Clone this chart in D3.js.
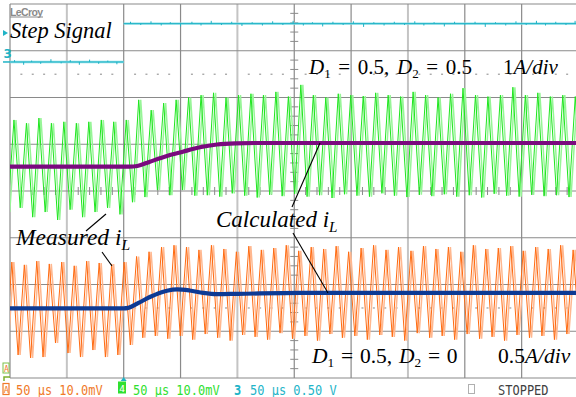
<!DOCTYPE html>
<html>
<head>
<meta charset="utf-8">
<script src="https://cdn.jsdelivr.net/npm/d3@7/dist/d3.min.js"></script>
<style>
  html, body { margin: 0; padding: 0; background: #fff; }
  svg { display: block; }
</style>
</head>
<body>
<svg id="scope" width="576" height="397"></svg>
<script>
// ---- Acquisition settings -------------------------------------------------
const timeSpan = [0, 500];            // µs, 10 div x 50 µs
const rippleStart = { green: -1.985, orange: -3.85 };  // first trough time, µs
const ripplePeriod = 10.97;           // switching period, µs

// Measured inductor current, D1 = 0.5, D2 = 0.5 (A, 1 A/div)
const greenTroughs = [-0.45, -0.36, -0.56, -0.45, -0.62, -0.40, -0.56, -0.45, -0.36, -0.50,
  -0.24, -0.13, 0.02, -0.09, 0.02, -0.10,
  -0.09, -0.12, -0.05, -0.10, -0.14, -0.08, -0.11, -0.06, -0.12, -0.09, -0.15, -0.07, -0.10,
  -0.12, -0.05, -0.10, -0.13, -0.08, -0.11, -0.07, -0.12, -0.09, -0.14, -0.06, -0.10, -0.12,
  -0.08, -0.11, -0.09, -0.13, -0.07];
const greenPeaks = [1.52, 1.45, 1.56, 1.45, 1.48, 1.45, 1.48, 1.52, 1.48, 1.52,
  1.95, 1.73, 1.88, 1.95, 2.00,
  2.05, 2.10, 2.00, 2.05, 2.08, 2.05, 2.12, 2.02, 2.27, 2.05, 2.00, 2.08, 2.05, 2.03, 2.10,
  2.05, 2.02, 2.12, 2.05, 2.00, 2.08, 2.20, 2.05, 2.02, 2.05, 2.22, 2.05, 2.10, 2.02, 2.05, 2.02];

// Measured inductor current, D1 = 0.5, D2 = 0 (A, 0.5 A/div)
const orangeTroughs = [0.00, -0.004, -0.036, -0.026, 0.124, 0.017, -0.026, 0.049, -0.026, -0.004,
  0.103, 0.18, 0.20, 0.17,
  0.20, 0.16, 0.22, 0.18, 0.15, 0.21, 0.19, 0.16, 0.23, 0.17, 0.20, 0.15, 0.22, 0.18, 0.20,
  0.16, 0.21, 0.19, 0.15, 0.23, 0.18, 0.20, 0.16, 0.22, 0.17, 0.19, 0.15, 0.21, 0.18, 0.20,
  0.16, 0.22, 0.19];
const orangePeaks = [0.99, 0.96, 1.00, 0.97, 0.99, 0.95, 1.00, 0.98, 0.97, 0.99,
  1.05, 1.10, 1.15, 1.17,
  1.15, 1.12, 1.17, 1.13, 1.10, 1.16, 1.12, 1.14, 1.17, 1.11, 1.15, 1.13, 1.16, 1.10, 1.14,
  1.17, 1.12, 1.15, 1.11, 1.16, 1.13, 1.15, 1.10, 1.17, 1.13, 1.14, 1.16, 1.11, 1.15, 1.13,
  1.17, 1.12];

// Calculated average inductor current (A)
const calcGreenTime  = [0, 105, 112, 123, 138, 152, 167, 182, 198, 215, 500];
const calcGreenValue = [0.52, 0.52, 0.535, 0.627, 0.749, 0.841, 0.935, 0.995, 1.02, 1.027, 1.027];
const calcOrangeTime  = [0, 100, 104, 113, 123, 138, 147, 158, 170, 182, 200, 255, 500];
const calcOrangeValue = [0.495, 0.495, 0.50, 0.553, 0.616, 0.683, 0.698, 0.686, 0.66, 0.647, 0.65, 0.66, 0.66];

// Step command (V, 0.5 V/div): low and high plateaus
const stepTime  = [0, 100, 100, 500];
const stepValue = [0, 0, 0.41, 0.41];
// small glitches riding on the step trace: [time µs, deviation V]
const stepGlitches = [[4, 0.02], [12, -0.03], [19, 0.015], [27, -0.02], [36, 0.03], [45, -0.015],
  [53, 0.02], [61, -0.03], [70, 0.025], [78, -0.02], [86, 0.015], [94, -0.025],
  [106, 0.02], [115, -0.015], [124, 0.025], [133, -0.02], [141, 0.015], [150, -0.03],
  [160, 0.02], [168, -0.02], [177, 0.03], [186, -0.015], [195, 0.02], [204, -0.025],
  [213, 0.015], [222, -0.02], [231, 0.025], [240, -0.015], [249, 0.03], [258, -0.02],
  [266, 0.015], [275, -0.03], [284, 0.02], [293, -0.015], [302, 0.025], [311, -0.035],
  [320, 0.015], [329, -0.02], [338, 0.02], [347, -0.015], [356, 0.025], [364, -0.02],
  [373, 0.015], [382, -0.03], [391, 0.02], [400, -0.015], [409, 0.02], [418, -0.035],
  [427, 0.015], [436, -0.02], [445, 0.025], [454, -0.015], [463, 0.03], [471, -0.02],
  [480, 0.02], [489, -0.015], [497, 0.03]];

// Status line entries
const statusItems = [
  { tag: "A", text: "50 \u03bcs 10.0mV", color: "#f07a2a" },
  { tag: "4", text: "50 \u03bcs 10.0mV", color: "#2fe02f" },
  { tag: "3", text: "50 \u03bcs 0.50 V", color: "#22b4c8" }
];

// ---- Scales -----------------------------------------------------------------
const W = 576, H = 397;
const gridLeft = 10, gridTop = 4, gridBottom = 378;
const x = d3.scaleLinear().domain(timeSpan).range([gridLeft, 578.5]);
const yDiv = d3.scaleLinear().domain([-4, 4]).range([gridBottom, gridTop]);
const channel = (offsetDiv, perDiv) => v => yDiv(offsetDiv + v / perDiv);
const yGreen = channel(0, 1);
const yOrange = channel(-3.5, 0.5);
const yStep = channel(2.76, 0.5);

const svg = d3.select("#scope");
svg.append("rect").attr("width", W).attr("height", H).attr("fill", "#fff");

const defs = svg.append("defs");
defs.append("clipPath").attr("id", "plotClip")
  .append("rect").attr("x", gridLeft).attr("y", gridTop)
  .attr("width", W - gridLeft).attr("height", gridBottom - gridTop);

// ---- Graticule --------------------------------------------------------------
const grid = svg.append("g");
const vDivs = d3.range(0, 11);
grid.selectAll("line.v").data(vDivs).join("line")
  .attr("x1", d => x(d * 50)).attr("x2", d => x(d * 50))
  .attr("y1", gridTop).attr("y2", gridBottom)
  .attr("stroke", d => (d % 3 === 1) ? "#c4c4c4" : "#8a8a8a")
  .attr("stroke-width", d => (d % 3 === 1) ? 2 : 1.2);
const hDivs = d3.range(-4, 5);
grid.selectAll("line.h").data(hDivs).join("line")
  .attr("x1", gridLeft).attr("x2", W)
  .attr("y1", d => yDiv(d)).attr("y2", d => yDiv(d))
  .attr("stroke", "#8a8a8a").attr("stroke-width", 1.2);

// minor ticks on the centre axes
const xMinor = d3.range(0, 501, 10).filter(t => t % 50 !== 0);
grid.selectAll("line.tx").data(xMinor).join("line")
  .attr("x1", d => x(d)).attr("x2", d => x(d))
  .attr("y1", yDiv(0) - 4).attr("y2", yDiv(0) + 4)
  .attr("stroke", "#8a8a8a").attr("stroke-width", 1);
const yMinor = d3.range(-4, 4.01, 0.2).filter(d => Math.abs(d - Math.round(d)) > 1e-6);
grid.selectAll("line.ty").data(yMinor).join("line")
  .attr("x1", x(250) - 4).attr("x2", x(250) + 4)
  .attr("y1", d => yDiv(d)).attr("y2", d => yDiv(d))
  .attr("stroke", "#8a8a8a").attr("stroke-width", 1);

// dotted rows at half divisions
[2.5, -2.5].forEach(level => {
  grid.selectAll(null).data(xMinor).join("rect")
    .attr("x", d => x(d) - 1).attr("y", yDiv(level) - 0.5)
    .attr("width", 2).attr("height", 1.2).attr("fill", "#9a9a9a");
});

// ---- Traces -----------------------------------------------------------------
const plot = svg.append("g").attr("clip-path", "url(#plotClip)");

// step command: plateaus only, the fast edge is not captured
const stepPlateaus = d3.range(stepTime.length - 1)
  .filter(i => stepValue[i] === stepValue[i + 1])
  .map(i => [[stepTime[i], stepValue[i]], [stepTime[i + 1], stepValue[i + 1]]]);
const stepLine = d3.line().x(d => x(d[0])).y(d => yStep(d[1]));
plot.selectAll(null).data(stepPlateaus).join("path").attr("d", stepLine)
  .attr("fill", "none").attr("stroke", "#8adde6").attr("stroke-width", 2.4);
plot.selectAll(null).data(stepPlateaus).join("path").attr("d", stepLine)
  .attr("fill", "none").attr("stroke", "#1fb3c6").attr("stroke-width", 1);
const stepAt = t => {
  let v = stepValue[0];
  for (let i = 0; i < stepTime.length; i++) if (stepTime[i] <= t) v = stepValue[i];
  return v;
};
plot.selectAll("line.glitch").data(stepGlitches).join("line")
  .attr("x1", d => x(d[0])).attr("x2", d => x(d[0]))
  .attr("y1", d => yStep(stepAt(d[0]))).attr("y2", d => yStep(stepAt(d[0]) + d[1]))
  .attr("stroke", "#1fb3c6").attr("stroke-width", 1);

// ripple waveform vertices: alternating troughs and peaks
function rippleVertices(start, troughs, peaks) {
  const pts = [];
  troughs.forEach((v, k) => {
    pts.push([start + k * ripplePeriod, v]);
    if (k < peaks.length) pts.push([start + (k + 0.5) * ripplePeriod, peaks[k]]);
  });
  return pts;
}
function drawRipple(pts, yFn, pale, bright) {
  const line = d3.line().x(d => x(d[0])).y(d => yFn(d[1]));
  // persistence trail, slightly behind the live trace
  plot.append("path").datum(pts).attr("d", line)
    .attr("transform", "translate(2,0)")
    .attr("fill", "none").attr("stroke", pale).attr("stroke-width", 1.5);
  plot.append("path").datum(pts).attr("d", line)
    .attr("fill", "none").attr("stroke", bright).attr("stroke-width", 1);
}
drawRipple(rippleVertices(rippleStart.green, greenTroughs, greenPeaks), yGreen, "#98f598", "#1ee61e");
drawRipple(rippleVertices(rippleStart.orange, orangeTroughs, orangePeaks), yOrange, "#ffb890", "#ff6a10");

// calculated averages
const calcLine = (times, yFn) => d3.line().curve(d3.curveMonotoneX)
  .x((d, i) => x(times[i])).y(d => yFn(d));
plot.append("path").datum(calcGreenValue).attr("d", calcLine(calcGreenTime, yGreen))
  .attr("fill", "none").attr("stroke", "#7a0a7e").attr("stroke-width", 4.2);
plot.append("path").datum(calcOrangeValue).attr("d", calcLine(calcOrangeTime, yOrange))
  .attr("fill", "none").attr("stroke", "#0d3a94").attr("stroke-width", 4.2);

// ---- Scope markers ------------------------------------------------------------
const marks = svg.append("g");
marks.append("text").attr("x", 10).attr("y", 15.5)
  .attr("font-family", "Liberation Sans, Arial, sans-serif").attr("font-weight", "bold")
  .attr("font-size", 10.5).attr("fill", "#8a8a8a").attr("textLength", 33).text("LeCroy");
marks.append("line").attr("x1", 10).attr("x2", 43).attr("y1", 17).attr("y2", 17)
  .attr("stroke", "#8a8a8a").attr("stroke-width", 1);
marks.append("path").attr("d", "M3,30 L8,33 L3,36 Z").attr("fill", "#1fb3c6");
marks.append("text").attr("x", 3.5).attr("y", 58).attr("font-family", "DejaVu Sans, sans-serif")
  .attr("font-weight", "bold").attr("font-size", 12).attr("fill", "#1fb3c6").text("3");
marks.append("line").attr("x1", 3).attr("x2", 10).attr("y1", yStep(0)).attr("y2", yStep(0))
  .attr("stroke", "#1fb3c6").attr("stroke-width", 1.5);
// trigger position
marks.append("path").attr("d", `M${x(100) - 3},${gridBottom + 3} L${x(100)},${gridBottom - 1} L${x(100) + 3},${gridBottom + 3} Z`)
  .attr("fill", "#1fb3c6");
// ground markers of the current channels
marks.append("rect").attr("x", 3).attr("y", 363).attr("width", 6).attr("height", 10)
  .attr("fill", "#fff").attr("stroke", "#7cc04a").attr("stroke-width", 1);
marks.append("text").attr("x", 4).attr("y", 372).attr("font-family", "DejaVu Sans Mono, monospace")
  .attr("font-size", 8).attr("fill", "#f07a2a").text("A");
marks.append("path").attr("d", "M4,381 L4,377 L10,377").attr("fill", "none")
  .attr("stroke", "#7cb030").attr("stroke-width", 1.5);

// ---- Annotations --------------------------------------------------------------
const ann = svg.append("g").attr("font-family", "Liberation Serif, 'Times New Roman', serif").attr("fill", "#000");
ann.append("text").attr("x", 10).attr("y", 37.5).attr("font-size", 22.5).attr("font-style", "italic")
  .text("Step Signal");

function dutyLabel(xp, yp, size, spacing, d2) {
  const t = ann.append("text").attr("x", xp).attr("y", yp).attr("font-size", size)
    .attr("word-spacing", spacing);
  t.append("tspan").attr("font-style", "italic").text("D");
  t.append("tspan").attr("font-size", size * 0.62).attr("dy", size * 0.2).text("1");
  t.append("tspan").attr("dy", -size * 0.2).text(" = 0.5, ");
  t.append("tspan").attr("font-style", "italic").text("D");
  t.append("tspan").attr("font-size", size * 0.62).attr("dy", size * 0.2).text("2");
  t.append("tspan").attr("dy", -size * 0.2).text(" = " + d2);
}
dutyLabel(309, 74, 21, 2.4, "0.5");
dutyLabel(312, 363, 21.5, 1.4, "0");

function scaleLabel(xp, yp, size, num) {
  const t = ann.append("text").attr("x", xp).attr("y", yp).attr("font-size", size);
  t.append("tspan").text(num);
  t.append("tspan").attr("font-style", "italic").text("A/div");
}
scaleLabel(503, 74, 21, "1");
scaleLabel(498, 363, 21.5, "0.5");

function currentLabel(xp, yp, size, word) {
  const t = ann.append("text").attr("x", xp).attr("y", yp).attr("font-size", size).attr("font-style", "italic");
  t.append("tspan").text(word + " i");
  t.append("tspan").attr("font-size", size * 0.66).attr("dy", size * 0.22).text("L");
}
currentLabel(216, 226.5, 23, "Calculated");
currentLabel(16, 244.5, 23.5, "Measured");

// leader lines
const leaders = [[292, 207, 320, 143], [293, 233, 328, 293], [86, 231, 106, 214], [102, 252, 112, 266]];
ann.selectAll("line").data(leaders).join("line")
  .attr("x1", d => d[0]).attr("y1", d => d[1]).attr("x2", d => d[2]).attr("y2", d => d[3])
  .attr("stroke", "#000").attr("stroke-width", 1.1);

// ---- Status line --------------------------------------------------------------
const status = svg.append("g").attr("font-family", "DejaVu Sans Mono, monospace").attr("font-size", 12);
const tagX = [3, 118, 234], textX = [16, 133, 250];
statusItems.forEach((s, i) => {
  if (i === 0) {
    status.append("rect").attr("x", tagX[i]).attr("y", 383.5).attr("width", 6).attr("height", 11)
      .attr("fill", "#fff").attr("stroke", s.color).attr("stroke-width", 1.2);
    status.append("text").attr("x", tagX[i] + 0.8).attr("y", 393).attr("font-size", 8.5)
      .attr("fill", s.color).text(s.tag);
  } else if (i === 1) {
    status.append("rect").attr("x", tagX[i]).attr("y", 381.5).attr("width", 8).attr("height", 12)
      .attr("fill", s.color);
    status.append("text").attr("x", tagX[i] + 1.2).attr("y", 392).attr("font-size", 9.5)
      .attr("fill", "#fff").text(s.tag);
  } else {
    status.append("text").attr("x", tagX[i]).attr("y", 395).attr("font-weight", "bold")
      .attr("fill", s.color).attr("transform", `translate(${tagX[i]},395) scale(1,1.2) translate(${-tagX[i]},-395)`)
      .text(s.tag);
  }
  status.append("text").attr("x", textX[i]).attr("y", 395).attr("fill", s.color)
    .attr("transform", `translate(${textX[i]},395) scale(1,1.2) translate(${-textX[i]},-395)`)
    .text(s.text);
});
status.append("rect").attr("x", 468.5).attr("y", 384.5).attr("width", 6).attr("height", 9)
  .attr("fill", "none").attr("stroke", "#b0b0b0").attr("stroke-width", 1);
status.append("text").attr("x", 498).attr("y", 395).attr("fill", "#404040")
  .attr("transform", "translate(498,395) scale(1,1.2) translate(-498,-395)").text("STOPPED");
</script>
</body>
</html>
